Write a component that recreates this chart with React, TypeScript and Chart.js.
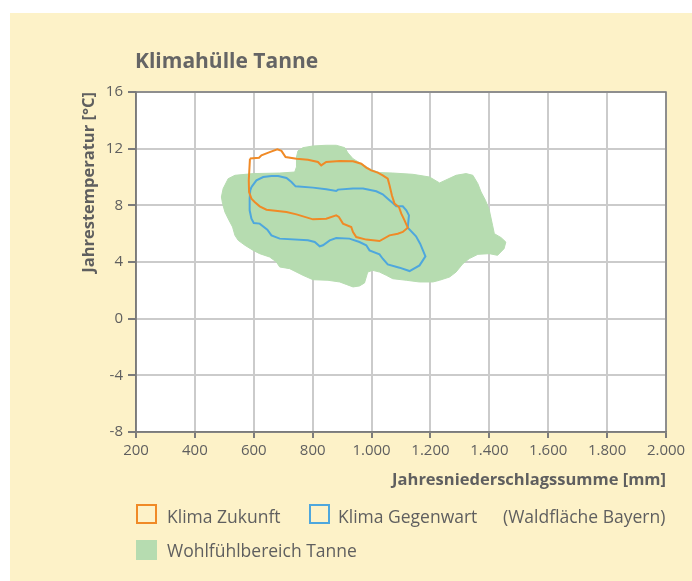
import React, { useEffect, useRef } from "react";
import { Chart, registerables } from "chart.js";

Chart.register(...registerables);

// Axis ticks
const xTickValues = [200, 400, 600, 800, 1000, 1200, 1400, 1600, 1800, 2000];
const xTickLabels = ["200", "400", "600", "800", "1.000", "1.200", "1.400", "1.600", "1.800", "2.000"];
const yTickValues = [-8, -4, 0, 4, 8, 12, 16];
const yTickLabels = ["-8", "-4", "0", "4", "8", "12", "16"];

// Klima Zukunft (orange outline)
const zukunftX = [587, 618, 626, 654, 680, 694, 708, 745, 784, 818, 829, 846, 892, 937, 965, 982, 999, 1021, 1038, 1055, 1061, 1069, 1078, 1093, 1101, 1112, 1123, 1106, 1089, 1061, 1027, 982, 948, 937, 931, 903, 889, 880, 846, 801, 745, 711, 643, 620, 603, 592, 584, 583, 587];
const zukunftY = [11.3, 11.36, 11.53, 11.76, 11.95, 11.84, 11.41, 11.29, 11.22, 11.06, 10.82, 11.06, 11.13, 11.11, 10.94, 10.66, 10.47, 10.31, 10.12, 9.88, 9.41, 8.71, 8.12, 7.88, 7.41, 6.94, 6.42, 6.12, 6.0, 5.88, 5.48, 5.58, 5.76, 6.12, 6.47, 6.71, 7.18, 7.29, 7.06, 7.01, 7.36, 7.53, 7.69, 7.93, 8.24, 8.47, 8.94, 9.76, 11.3];

// Klima Gegenwart (blue outline)
const gegenwartX = [592, 609, 632, 660, 683, 711, 728, 742, 801, 846, 880, 886, 937, 971, 1016, 1038, 1055, 1072, 1084, 1106, 1118, 1127, 1123, 1151, 1165, 1183, 1163, 1129, 1095, 1055, 1038, 1027, 993, 982, 959, 925, 880, 858, 835, 824, 807, 784, 688, 660, 646, 620, 600, 592, 586, 586, 588, 592];
const gegenwartY = [9.29, 9.76, 10.0, 10.07, 10.07, 9.93, 9.65, 9.34, 9.25, 9.13, 9.01, 9.11, 9.18, 9.18, 8.99, 8.78, 8.47, 8.16, 7.93, 7.93, 7.65, 7.29, 6.42, 5.81, 5.29, 4.4, 3.76, 3.36, 3.6, 3.83, 4.23, 4.54, 4.82, 5.18, 5.41, 5.65, 5.69, 5.53, 5.18, 5.11, 5.41, 5.53, 5.65, 5.88, 6.28, 6.71, 6.75, 7.06, 7.65, 8.47, 9.06, 9.29];

// Wohlfühlbereich Tanne (green area)
const wohlX = [750, 767, 801, 846, 880, 909, 920, 937, 965, 999, 1027, 1072, 1140, 1197, 1231, 1287, 1321, 1344, 1361, 1372, 1387, 1400, 1411, 1417, 1440, 1456, 1450, 1428, 1400, 1361, 1332, 1310, 1287, 1265, 1231, 1208, 1163, 1118, 1072, 1050, 1027, 1004, 987, 982, 976, 959, 937, 914, 892, 852, 801, 767, 722, 688, 677, 654, 620, 598, 570, 547, 536, 528, 513, 502, 494, 490, 496, 513, 536, 598, 688, 739, 745, 745, 750];
const wohlY = [11.84, 12.07, 12.19, 12.24, 12.24, 12.07, 11.69, 11.29, 10.94, 10.52, 10.31, 10.28, 10.19, 10.0, 9.58, 10.12, 10.24, 10.12, 9.53, 8.94, 8.35, 7.65, 6.59, 6.0, 5.72, 5.41, 4.94, 4.47, 4.59, 4.54, 4.24, 3.88, 3.29, 2.94, 2.71, 2.59, 2.59, 2.71, 2.82, 3.06, 3.29, 3.41, 3.29, 2.94, 2.52, 2.31, 2.24, 2.42, 2.59, 2.71, 2.75, 3.06, 3.53, 3.65, 4.0, 4.35, 4.59, 4.82, 5.18, 5.53, 5.88, 6.47, 7.06, 7.53, 8.12, 8.59, 9.18, 9.88, 10.12, 10.24, 10.28, 10.35, 10.71, 11.41, 11.84];

const FONT = "'Open Sans', 'Noto Sans', sans-serif";
const TEXT = "#5f5f5f";
const YELLOW = "#fdf2c8";
const ORANGE = "#f08a26";
const BLUE = "#4ea7dd";
const GREEN = "#b6dcb0";

const toPts = (xs: number[], ys: number[]) => xs.map((x, i) => ({ x, y: ys[i] }));

const bgPlugin = {
  id: "bgPlugin",
  beforeDraw(chart: any) {
    const { ctx, chartArea, width, height } = chart;
    ctx.save();
    ctx.fillStyle = "#ffffff";
    ctx.fillRect(0, 0, width, height);
    ctx.fillStyle = YELLOW;
    ctx.fillRect(10, 13, width - 10, height - 13);
    ctx.fillStyle = "#ffffff";
    ctx.fillRect(chartArea.left, chartArea.top, chartArea.right - chartArea.left, chartArea.bottom - chartArea.top);
    ctx.restore();
  },
  afterDraw(chart: any) {
    const { ctx, chartArea } = chart;
    ctx.save();
    ctx.strokeStyle = "#7b7b7b";
    ctx.lineWidth = 1.5;
    ctx.strokeRect(chartArea.left, chartArea.top, chartArea.right - chartArea.left, chartArea.bottom - chartArea.top);
    ctx.restore();
  },
};

export default function App() {
  const ref = useRef<HTMLCanvasElement | null>(null);

  useEffect(() => {
    if (!ref.current) return;
    const chart = new Chart(ref.current, {
      type: "scatter",
      data: {
        datasets: [
          {
            label: "Klima Zukunft",
            data: toPts(zukunftX, zukunftY),
            showLine: true,
            borderColor: ORANGE,
            borderWidth: 2,
            pointRadius: 0,
            fill: false,
            tension: 0,
            order: 0,
          },
          {
            label: "Klima Gegenwart",
            data: toPts(gegenwartX, gegenwartY),
            showLine: true,
            borderColor: BLUE,
            borderWidth: 2,
            pointRadius: 0,
            fill: false,
            tension: 0,
            order: 1,
          },
          {
            label: "Wohlfühlbereich Tanne",
            data: toPts(wohlX, wohlY),
            showLine: true,
            borderColor: GREEN,
            backgroundColor: GREEN,
            borderWidth: 1,
            pointRadius: 0,
            fill: "shape",
            tension: 0,
            order: 2,
          },
        ],
      },
      options: {
        animation: false,
        responsive: false,
        maintainAspectRatio: false,
        layout: { padding: { left: 79, top: 92, right: 26, bottom: 91 } },
        plugins: {
          legend: { display: false },
          tooltip: { enabled: false },
          title: { display: false },
        },
        scales: {
          x: {
            type: "linear",
            min: 200,
            max: 2000,
            afterBuildTicks: (s: any) => {
              s.ticks = xTickValues.map((v) => ({ value: v }));
            },
            afterFit: (s: any) => {
              s.height = 58;
            },
            ticks: {
              callback: (v: any) => xTickLabels[xTickValues.indexOf(Number(v))] ?? "",
              font: { family: FONT, size: 15 },
              color: TEXT,
              padding: 4,
              maxRotation: 0,
            },
            grid: { color: "#cbcbcb", lineWidth: 2, tickColor: "#7b7b7b", tickLength: 6 },
            border: { color: "#7b7b7b", width: 1.5 },
            title: {
              display: true,
              text: "Jahresniederschlagssumme [mm]",
              align: "end",
              color: TEXT,
              font: { family: FONT, size: 16.5, weight: "bold" },
              padding: 0,
            },
          },
          y: {
            type: "linear",
            min: -8,
            max: 16,
            afterBuildTicks: (s: any) => {
              s.ticks = yTickValues.map((v) => ({ value: v }));
            },
            afterFit: (s: any) => {
              s.width = 57;
            },
            ticks: {
              callback: (v: any) => yTickLabels[yTickValues.indexOf(Number(v))] ?? "",
              font: { family: FONT, size: 15 },
              color: TEXT,
              padding: 5,
            },
            grid: { color: "#cbcbcb", lineWidth: 2, tickColor: "#7b7b7b", tickLength: 8 },
            border: { color: "#7b7b7b", width: 1.5 },
            title: {
              display: true,
              text: "Jahrestemperatur [°C]",
              align: "end",
              color: TEXT,
              font: { family: FONT, size: 16.5, weight: "bold" },
              padding: 0,
            },
          },
        },
      },
      plugins: [bgPlugin],
    } as any);
    return () => chart.destroy();
  }, []);

  const legendText: React.CSSProperties = {
    position: "absolute",
    fontFamily: FONT,
    fontSize: 17.5,
    color: TEXT,
    lineHeight: "20px",
    whiteSpace: "nowrap",
  };
  const box = (left: number, top: number, style: React.CSSProperties): React.CSSProperties => ({
    position: "absolute",
    left,
    top,
    width: 21,
    height: 20,
    boxSizing: "border-box",
    ...style,
  });

  return (
    <div style={{ position: "absolute", left: 0, top: 0, width: 692, height: 581, overflow: "hidden" }}>
      <canvas ref={ref} width={692} height={581} style={{ position: "absolute", left: 0, top: 0, width: 692, height: 581 }} />
      <div
        style={{
          position: "absolute",
          left: 135,
          top: 48,
          fontFamily: FONT,
          fontSize: 21,
          fontWeight: "bold",
          color: "#656565",
          lineHeight: "24px",
          whiteSpace: "nowrap",
        }}
      >
        Klimahülle Tanne
      </div>
      <div style={box(136, 504, { border: `2px solid ${ORANGE}` })} />
      <div style={{ ...legendText, left: 167, top: 506 }}>Klima Zukunft</div>
      <div style={box(309, 504, { border: `2px solid ${BLUE}` })} />
      <div style={{ ...legendText, left: 338, top: 506 }}>Klima Gegenwart</div>
      <div style={{ ...legendText, left: 503, top: 506 }}>(Waldfläche Bayern)</div>
      <div style={box(136, 540, { background: GREEN })} />
      <div style={{ ...legendText, left: 167, top: 540 }}>Wohlfühlbereich Tanne</div>
    </div>
  );
}
